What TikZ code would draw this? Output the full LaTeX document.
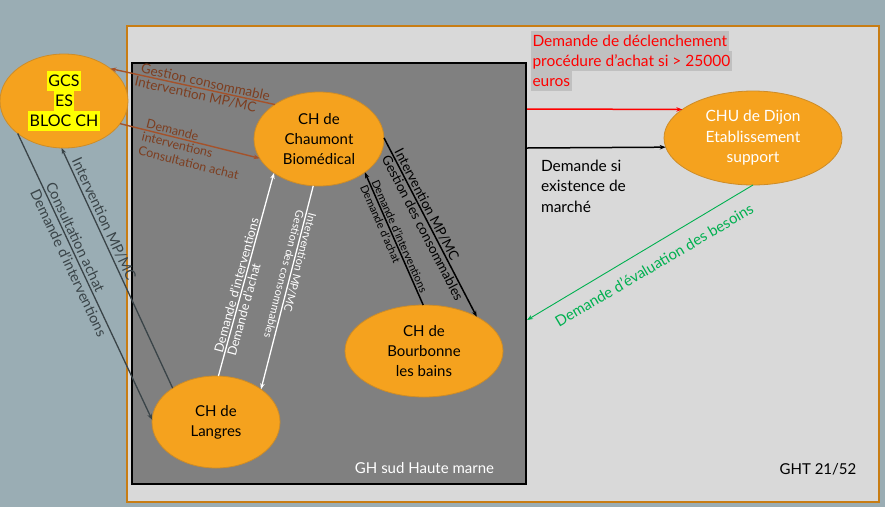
\documentclass[tikz,border=0pt]{standalone}
\usepackage{fontspec}
\setmainfont{Lato}
\usetikzlibrary{shapes.geometric,arrows.meta}
\definecolor{bgc}{RGB}{154,173,180}
\definecolor{outerfill}{RGB}{217,217,217}
\definecolor{outerline}{RGB}{200,125,20}
\definecolor{innerfill}{RGB}{128,128,128}
\definecolor{ellfill}{RGB}{245,162,30}
\definecolor{ellline}{RGB}{205,140,40}
\definecolor{brownl}{RGB}{165,82,42}
\definecolor{brownt}{RGB}{125,62,32}
\definecolor{greyl}{RGB}{58,68,72}
\definecolor{redc}{RGB}{255,0,0}
\definecolor{hlgrey}{RGB}{192,192,192}
\definecolor{greenc}{RGB}{0,176,80}
\definecolor{hlyellow}{RGB}{255,255,0}
\newcommand\fsz[2]{\fontsize{#1}{#2}\selectfont}
\newcommand\hlbox[2]{\begingroup\setlength\fboxsep{0pt}\colorbox{#1}{\rule[-5pt]{0pt}{20pt}\hspace{1.5pt}#2\hspace{1.5pt}}\endgroup}
\begin{document}
\begin{tikzpicture}[x=1pt,y=-1pt,
  ell/.style={ellipse, fill=ellfill, draw=ellline, line width=0.8pt, inner sep=0pt, outer sep=0pt, align=center, font=\fsz{15}{20}},
  lbl/.style={inner sep=0pt, outer sep=0pt},
  onl/.style={sloped, inner xsep=0pt, inner ysep=2pt, outer sep=0pt, align=left},
  up/.style={onl, anchor=south west},
  dn/.style={onl, anchor=north west},
  tip/.style={-{Stealth[length=6pt,width=4.5pt]}},
  brownarr/.style={tip, draw=brownl, line width=1.4pt},
  greyarr/.style={tip, draw=greyl, line width=1.3pt},
  whitearr/.style={tip, draw=white, line width=1.3pt},
  blackarr/.style={tip, draw=black, line width=1.5pt},
  redarr/.style={tip, draw=redc, line width=1.5pt},
  greenarr/.style={tip, draw=greenc, line width=0.9pt}]
\useasboundingbox (0,0) rectangle (885,507);
\fill[bgc] (0,0) rectangle (885,507);
\node[draw=outerline, fill=outerfill, line width=1.2pt, minimum width=752pt, minimum height=476pt, inner sep=0pt] (ght) at (503,264) {};
\node[draw=black, fill=innerfill, line width=1.2pt, minimum width=394pt, minimum height=421pt, inner sep=0pt] (gh) at (329,273.5) {};

% ellipses
\node[ell, minimum width=128pt, minimum height=94pt, font=\fsz{16}{20}] (gcs) at (64,101) {\hlbox{hlyellow}{GCS}\\\hlbox{hlyellow}{ES}\\\hlbox{hlyellow}{BLOC CH}};
\node[ell, minimum width=130pt, minimum height=94pt] (chau) at (319,139) {CH de\\Chaumont\\Biomédical};
\node[ell, minimum width=158pt, minimum height=92pt] (bourb) at (424,351) {CH de\\Bourbonne\\les bains};
\node[ell, minimum width=128pt, minimum height=92pt] (lang) at (216,422) {CH de\\Langres};
\node[ell, minimum width=178pt, minimum height=94pt, text=white, font=\fsz{15.5}{20.5}] (chu) at (753,138) {CHU de Dijon\\Etablissement\\support};

% connectors with their labels
\draw[brownarr] (chau.142.7) --
  node[up, pos=0.82, text=brownt, font=\fsz{13.5}{15}] (lb1a) {Gestion consommable}
  node[dn, pos=0.84, text=brownt, font=\fsz{13.5}{15}] (lb1b) {Intervention MP/MC}
  (gcs.35.7);
\draw[brownarr] (gcs.-22.7) --
  node[up, pos=0.18, text=brownt, font=\fsz{12.5}{15}] (lb2a) {Demande}
  node[dn, pos=0.17, text=brownt, font=\fsz{12.5}{15}] (lb2b) {interventions\\Consultation achat}
  (chau.198.4);
\draw[greyarr] (lang.142.3) --
  node[up, pos=0.94, inner ysep=3pt, text=greyl, font=\fsz{14.5}{16}] (lg1) {Intervention MP/MC}
  (gcs.-93);
\draw[greyarr] (gcs.215.9) --
  node[up, pos=0.185, inner ysep=3pt, text=greyl, font=\fsz{14.5}{16}] (lg2a) {Consultation achat}
  node[dn, pos=0.185, inner ysep=3pt, text=greyl, font=\fsz{14.5}{16}] (lg2b) {Demande d’interventions}
  (lang.178);
\draw[whitearr] (lang.87.5) --
  node[up, pos=0.11, text=white, font=\fsz{12.5}{14}] (lw1a) {Demande d’interventions}
  node[dn, pos=0.11, text=white, font=\fsz{12.5}{14}] (lw1b) {Demande d’achat}
  (chau.217.9);
\draw[whitearr] (chau.-97.3) --
  node[up, allow upside down, pos=0.13, text=white, font=\fsz{11}{13}] (lw2a) {Intervention MP/MC}
  node[dn, allow upside down, pos=0.13, text=white, font=\fsz{11}{13}] (lw2b) {Gestion des consommables}
  (lang.36.7);
\draw[blackarr] (chau.1) --
  node[up, pos=0.085, text=black, font=\fsz{13.5}{16}] (lk1a) {Intervention MP/MC}
  node[dn, pos=0.085, text=black, font=\fsz{13.5}{16}] (lk1b) {Gestion des consommables}
  (bourb.33.7);
\draw[blackarr] (bourb.91) --
  node[up, pos=0.92, text=black, font=\fsz{11}{13}] (lk2a) {Demande d’interventions}
  node[dn, pos=0.92, text=black, font=\fsz{11}{13}] (lk2b) {Demande d’achat}
  (chau.-36.5);
\coordinate (rs) at (527,109);
\coordinate (bs) at (527,148);
\coordinate (ge) at (527,320);
\draw[redarr] (rs) -- (chu.158.6);
\draw[blackarr] (bs) -- (chu.186.4);
\draw[greenarr] (chu.-90) -- (ge);

% free labels
\node[lbl, text=greenc, font=\fsz{15}{18}, rotate=30.5] (lgr) at (654,265) {Demande d’évaluation des besoins};
\node[lbl, text=redc, font=\fsz{15.5}{20}, align=left, anchor=north west] (lred) at (531,31) {\hlbox{hlgrey}{Demande de déclenchement}\\\hlbox{hlgrey}{procédure d’achat si > 25000}\\\hlbox{hlgrey}{euros}};
\node[lbl, text=black, font=\fsz{15.5}{20.5}, align=left, anchor=north west] (lblk) at (541,160) {Demande si\\existence de\\marché};
\node[lbl, text=white, font=\fsz{15}{18}] (lgh) at (424.5,468) {GH sud Haute marne};
\node[lbl, text=black, font=\fsz{15}{18}] (lght) at (818,469) {GHT 21/52};
\end{tikzpicture}
\end{document}
